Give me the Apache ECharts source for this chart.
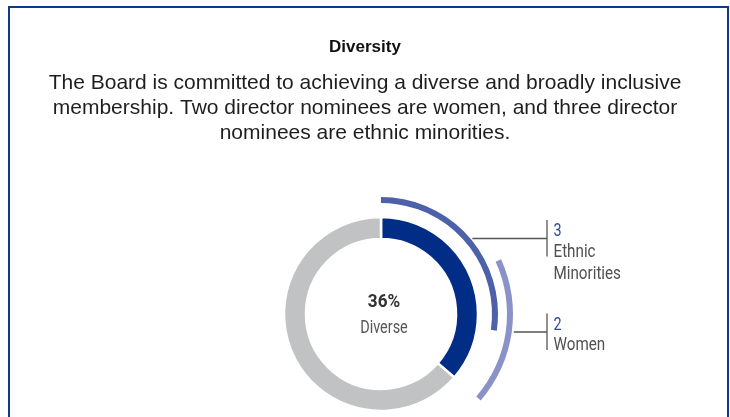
<!DOCTYPE html>
<html><head><meta charset="utf-8">
<script src="https://cdn.jsdelivr.net/npm/echarts@6/dist/echarts.min.js"></script>
<style>html,body{margin:0;padding:0;background:#fff}#c{width:730px;height:417px}</style>
</head><body><div id="c"></div>
<script>
// ---- data ----
const titleText = 'Diversity';
const bodyLines = [
  'The Board is committed to achieving a diverse and broadly inclusive',
  'membership. Two director nominees are women, and three director',
  'nominees are ethnic minorities.'
];
const boardSize = 11;
const diverseCount = 4;
const diverseLabel = 'Diverse';
const groupNames = ['Ethnic\nMinorities', 'Women'];
const groupCounts = [3, 2];

// ---- style / layout ----
const C = { navy: '#022d86', ethnic: '#4d61aa', women: '#8a93c7', grey: '#c1c2c4', line: '#555555', text: '#505050', num: '#2f4a9c' };
const FONT = 'Roboto';
const SQ = 0.8; // horizontal squeeze to mimic a condensed face
const cx = 381, cy = 314;
const textCx = 384;
const ringR = [75, 97];
const ethnicR = [111, 117];
const womenR = [126, 132];
const barX = 547, labelX = 553.5;
const lineYs = [238.5, 332];

const pct = Math.round(diverseCount / boardSize * 100) + '%';
const ethnic = groupCounts[0], women = groupCounts[1];

const chart = echarts.init(document.getElementById('c'));

const graphics = [
  { type: 'polyline', shape: { points: [[9, 417], [9, 7], [728, 7], [728, 417]] },
    style: { stroke: '#0a3a8c', lineWidth: 2, fill: null }, silent: true },
  { type: 'text', x: textCx, y: 302, scaleX: 0.95, silent: true,
    style: { text: pct, fontFamily: FONT, fontSize: 18, fontWeight: 'bold', fill: '#333', align: 'center', verticalAlign: 'middle' } },
  { type: 'text', x: textCx, y: 328.7, scaleX: 0.78, silent: true,
    style: { text: diverseLabel, fontFamily: FONT, fontSize: 18.5, fill: '#555', align: 'center', verticalAlign: 'middle' } }
];
const outerRs = [ethnicR[1], womenR[1]];
groupNames.forEach((nm, i) => {
  const y = lineYs[i];
  const dy = y - cy;
  const sx = cx + Math.sqrt(outerRs[i] * outerRs[i] - dy * dy) + 2;
  graphics.push({ type: 'line', shape: { x1: sx, y1: y, x2: barX, y2: y }, style: { stroke: C.line, lineWidth: 1.3 }, silent: true });
  graphics.push({ type: 'line', shape: { x1: barX, y1: y - 18.5, x2: barX, y2: y + 18 }, style: { stroke: C.line, lineWidth: 1.3 }, silent: true });
  graphics.push({ type: 'text', x: labelX, y: y - 7, scaleX: SQ, silent: true,
    style: { text: String(groupCounts[i]), fontFamily: FONT, fontSize: 18, fill: C.num, align: 'left', verticalAlign: 'middle' } });
  nm.split('\n').forEach((s, k) => {
    graphics.push({ type: 'text', x: labelX, y: y + 13.5 + k * 22.7, scaleX: SQ, silent: true,
      style: { text: s, fontFamily: FONT, fontSize: 19, fill: C.text, align: 'left', verticalAlign: 'middle' } });
  });
});

chart.setOption({
  animation: false,
  title: [
    { text: titleText, left: 'center', top: 34, textStyle: { fontFamily: 'Liberation Sans', fontSize: 17, fontWeight: 'bold', color: '#111' } },
    { text: bodyLines.join('\n'), left: 'center', top: 66,
      textStyle: { fontFamily: 'Liberation Sans', fontSize: 21, lineHeight: 25, fontWeight: 'normal', color: '#1e1e1e' } }
  ],
  series: [
    { type: 'pie', center: [cx, cy], radius: ringR, startAngle: 90, clockwise: true, silent: true,
      label: { show: false }, labelLine: { show: false },
      itemStyle: { borderColor: '#fff', borderWidth: 2.5 },
      data: [ { value: diverseCount, name: diverseLabel, itemStyle: { color: C.navy } },
              { value: boardSize - diverseCount, name: 'Other', itemStyle: { color: C.grey } } ] },
    { type: 'pie', center: [cx, cy], radius: ethnicR, startAngle: 90, clockwise: true, silent: true,
      label: { show: false }, labelLine: { show: false },
      data: [ { value: ethnic, name: 'Ethnic Minorities', itemStyle: { color: C.ethnic } },
              { value: boardSize - ethnic, name: 'rest', itemStyle: { color: 'rgba(0,0,0,0)' } } ] },
    { type: 'pie', center: [cx, cy], radius: womenR, startAngle: 90, clockwise: true, silent: true,
      label: { show: false }, labelLine: { show: false },
      data: [ { value: diverseCount - women, name: 'pre', itemStyle: { color: 'rgba(0,0,0,0)' } },
              { value: women, name: 'Women', itemStyle: { color: C.women } },
              { value: boardSize - diverseCount, name: 'post', itemStyle: { color: 'rgba(0,0,0,0)' } } ] }
  ],
  graphic: graphics
});
</script></body></html>
